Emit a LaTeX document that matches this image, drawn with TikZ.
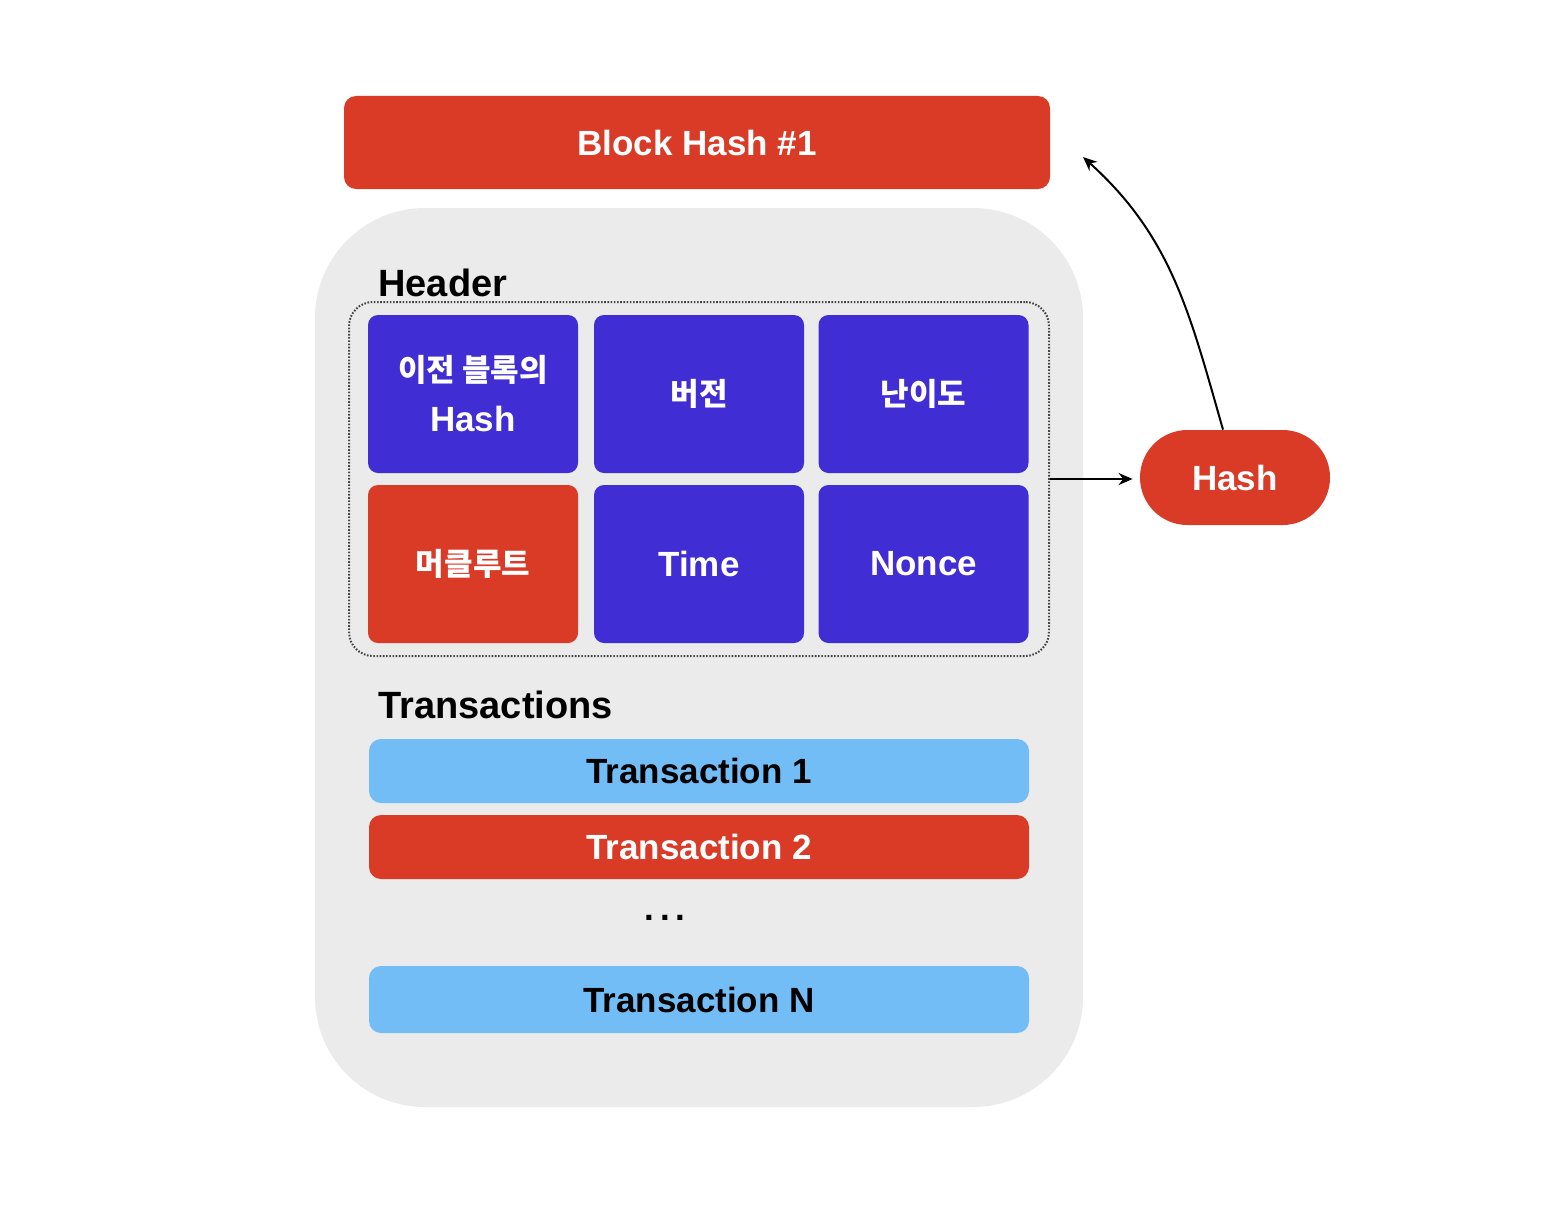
\documentclass[tikz,border=0pt]{standalone}
\usepackage{fontspec}
\setmainfont{Liberation Sans}
\newfontfamily\krfont{Noto Sans CJK KR}
\usetikzlibrary{arrows.meta}
\definecolor{cred}{HTML}{D93B27}
\definecolor{cblue}{HTML}{402ED4}
\definecolor{clight}{HTML}{72BDF6}
\definecolor{cgray}{HTML}{EBEBEB}
\definecolor{cdot}{HTML}{444444}
\begin{document}
\begin{tikzpicture}[x=0.5pt,y=-0.5pt,
  txt/.style={font=\fontsize{17.5}{25}\selectfont\bfseries},
  kr/.style={font=\fontsize{15.5}{25}\selectfont\bfseries\krfont},
  cell/.style={rectangle, rounded corners=5pt, inner sep=0pt, align=center,
    minimum width=105pt, minimum height=79pt, text=white},
  bluecell/.style={cell, fill=cblue},
  redcell/.style={cell, fill=cred},
  txbar/.style={rectangle, rounded corners=6pt, inner sep=0pt, minimum width=330pt,
    minimum height=32pt, txt},
  title/.style={anchor=base west, inner sep=0pt, font=\fontsize{19}{22}\selectfont\bfseries},
  arr/.style={line width=1pt, -{Stealth[length=7pt,width=6pt]}}]
\useasboundingbox (0,0) rectangle (1556,1204);
% block hash
\node[rectangle, rounded corners=6pt, fill=cred, minimum width=353pt, minimum height=46.5pt,
  inner sep=0pt, text=white, txt] (bh) at (697,142.5) {Block Hash \#1};
% container
\node[rectangle, rounded corners=55pt, fill=cgray, minimum width=384pt, minimum height=449.5pt,
  inner sep=0pt] (block) at (699,657.5) {};
\node[title] (hdr) at (378,296) {Header};
\node[rectangle, rounded corners=12pt, draw=cdot, line width=1pt,
  dash pattern=on 0.8pt off 0.8pt, minimum width=350pt, minimum height=177pt,
  inner sep=0pt] (hbox) at (699,479) {};
\node[bluecell, txt] (prev) at (473,394) {{\krfont\fontsize{15.5}{25}\selectfont 이전 블록의}\\Hash};
\node[bluecell, kr] (ver) at (699,394) {버전};
\node[bluecell, kr] (diff) at (923.5,394) {난이도};
\node[redcell, kr] (merkle) at (473,564) {머클루트};
\node[bluecell, txt] (time) at (699,564) {Time};
\node[bluecell, txt] (nonce) at (923.5,564) {Nonce};
\node[title] (txs) at (378,718) {Transactions};
\node[txbar, fill=clight] (t1) at (699,771) {Transaction 1};
\node[txbar, fill=cred, text=white] (t2) at (699,847) {Transaction 2};
\node[txt, inner sep=0pt] (dots) at (665,918) {.\,.\,.};
\node[txbar, fill=clight, minimum height=33.5pt] (tn) at (699,999.5) {Transaction N};
% hash
\node[rectangle, rounded corners=23.7pt, fill=cred, minimum width=95pt, minimum height=47.5pt,
  inner sep=0pt, text=white, txt] (hash) at (1235,477.5) {Hash};
\coordinate (bhtip) at (1083,157);
\draw[arr] (hbox.east) -- ([xshift=-3.5pt]hbox.east -| hash.west);
\draw[arr] ([xshift=-6pt]hash.north) to[out=106,in=-42] (bhtip);
\end{tikzpicture}
\end{document}
